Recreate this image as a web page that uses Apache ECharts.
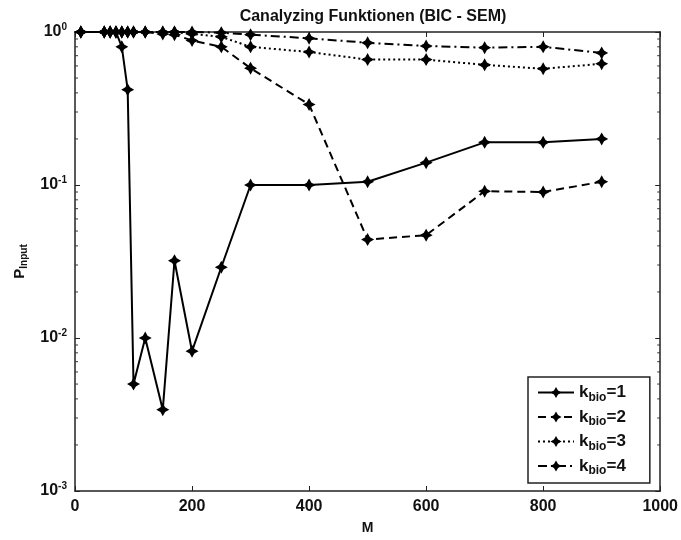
<!DOCTYPE html>
<html>
<head>
<meta charset="utf-8">
<script src="https://cdn.jsdelivr.net/npm/echarts@6/dist/echarts.min.js"></script>
<style>
  html, body { margin: 0; padding: 0; background: #fff; }
  #chart { width: 681px; height: 540px; }
</style>
</head>
<body>
<div id="chart"></div>
<script>
const mValues = [10, 50, 60, 70, 80, 90, 100, 120, 150, 170, 200, 250, 300, 400, 500, 600, 700, 800, 900];
const kBio1 = [1, 1, 1, 1, 0.8, 0.42, 0.005, 0.01, 0.0034, 0.032, 0.0082, 0.029, 0.1, 0.1, 0.105, 0.14, 0.19, 0.19, 0.2];
const kBio2 = [1, 1, 1, 1, 1, 1, 1, 1, 0.97, 0.96, 0.88, 0.8, 0.58, 0.336, 0.044, 0.047, 0.091, 0.09, 0.105];
const kBio3 = [1, 1, 1, 1, 1, 1, 1, 1, 1, 1, 0.97, 0.93, 0.8, 0.74, 0.66, 0.66, 0.61, 0.575, 0.62];
const kBio4 = [1, 1, 1, 1, 1, 1, 1, 1, 1, 1, 1, 0.99, 0.96, 0.91, 0.85, 0.81, 0.79, 0.8, 0.73];
const seriesNames = ["k=1", "k=2", "k=3", "k=4"];
const decades = [0.001, 0.01, 0.1];
const minorSteps = [2, 3, 4, 5, 6, 7, 8, 9];

const minorTicks = [];
decades.forEach(d => minorSteps.forEach(s => minorTicks.push([0, d * s])));

const star = "path://M0,-10 L3.6,-3.6 L10,0 L3.6,3.6 L0,10 L-3.6,3.6 L-10,0 L-3.6,-3.6 Z";
const font = "Liberation Sans, Arial, sans-serif";

function lineSeries(name, values, type) {
  return {
    name: name,
    type: "line",
    data: mValues.map((m, i) => [m, values[i]]),
    symbol: star,
    symbolSize: 13,
    showAllSymbol: true,
    clip: false,
    itemStyle: { color: "#000" },
    lineStyle: { color: "#000", width: 2, type: type },
    emphasis: { disabled: true },
    z: 3
  };
}

const chart = echarts.init(document.getElementById("chart"), null, { renderer: "canvas" });

const axisLine = { show: true, onZero: false, lineStyle: { color: "#222", width: 1.5 } };
const tick = { show: true, inside: true, length: 5, lineStyle: { color: "#222" } };

chart.setOption({
  animation: false,
  backgroundColor: "#fff",
  title: {
    text: "Canalyzing Funktionen (BIC - SEM)",
    left: 368,
    textAlign: "center",
    top: 4,
    textStyle: { fontFamily: font, fontWeight: "bold", fontSize: 16, color: "#111" }
  },
  grid: { left: 75, right: 19, top: 32, bottom: 45 },
  legend: {
    data: seriesNames,
    orient: "vertical",
    left: 528,
    top: 377,
    padding: [7, 24, 6, 9],
    itemGap: 5,
    itemWidth: 36,
    itemHeight: 14,
    backgroundColor: "#fff",
    borderColor: "#222",
    borderWidth: 1.5,
    formatter: n => "k{sub|bio}=" + n.slice(2),
    textStyle: {
      fontFamily: font, fontWeight: "bold", fontSize: 17, color: "#111",
      rich: {
        sub: { fontFamily: font, fontWeight: "bold", fontSize: 12, color: "#111", padding: [10, 0, 0, 0] }
      }
    }
  },
  xAxis: [
    {
      type: "value", min: 0, max: 1000, interval: 200, position: "bottom",
      name: "M", nameLocation: "middle", nameGap: 30,
      nameTextStyle: { fontFamily: font, fontWeight: "bold", fontSize: 14, color: "#111" },
      axisLine: axisLine, axisTick: tick, splitLine: { show: false },
      axisLabel: {
        margin: 8, fontFamily: font, fontWeight: "bold", fontSize: 16, color: "#111",
        formatter: v => String(v)
      }
    },
    {
      type: "value", min: 0, max: 1000, interval: 200, position: "top",
      axisLine: axisLine, axisTick: tick, axisLabel: { show: false }, splitLine: { show: false }
    }
  ],
  yAxis: [
    {
      type: "log", logBase: 10, min: 0.001, max: 1, position: "left",
      name: "P{sub|Input}", nameLocation: "middle", nameGap: 28, nameRotate: 90,
      nameTextStyle: {
        fontFamily: font, fontWeight: "bold", fontSize: 15, color: "#111",
        rich: { sub: { fontFamily: font, fontWeight: "bold", fontSize: 10, color: "#111", padding: [10, 0, 0, 0] } }
      },
      axisLine: axisLine, axisTick: tick, splitLine: { show: false },
      axisLabel: {
        margin: 8,
        formatter: v => "10{sup|" + Math.round(Math.log10(v)) + "}",
        fontFamily: font, fontWeight: "bold", fontSize: 16, color: "#111",
        rich: { sup: { fontFamily: font, fontWeight: "bold", fontSize: 10, color: "#111", padding: [0, 0, 9, 0] } }
      }
    },
    {
      type: "log", logBase: 10, min: 0.001, max: 1, position: "right",
      axisLine: axisLine, axisTick: tick, axisLabel: { show: false }, splitLine: { show: false }
    }
  ],
  series: [
    lineSeries(seriesNames[0], kBio1, "solid"),
    lineSeries(seriesNames[1], kBio2, [8, 5]),
    lineSeries(seriesNames[2], kBio3, [2, 3]),
    lineSeries(seriesNames[3], kBio4, [9, 4, 2, 4]),
    {
      type: "custom",
      silent: true,
      data: minorTicks,
      z: 1,
      renderItem: (params, api) => {
        const l = api.coord([0, api.value(1)]);
        const r = api.coord([1000, api.value(1)]);
        const st = { stroke: "#333", lineWidth: 1 };
        return {
          type: "group",
          children: [
            { type: "line", shape: { x1: l[0], y1: l[1], x2: l[0] + 3, y2: l[1] }, style: st },
            { type: "line", shape: { x1: r[0], y1: r[1], x2: r[0] - 3, y2: r[1] }, style: st }
          ]
        };
      }
    }
  ]
});
</script>
</body>
</html>
